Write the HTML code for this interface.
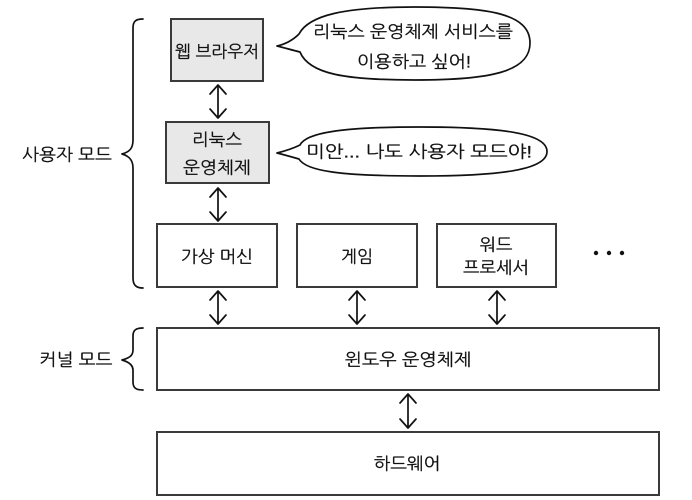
<!DOCTYPE html>
<html><head><meta charset="utf-8"><style>
html,body{margin:0;padding:0;background:#fff}
svg{display:block;filter:blur(.3px)}
text{font-family:"Liberation Sans","NanumGothic","Noto Sans CJK KR",sans-serif;font-size:17px;fill:#111;stroke:#111;stroke-width:.25;dominant-baseline:central;text-anchor:middle}
.b{fill:#fff;stroke:#3a3a3a;stroke-width:2}
.g{fill:#e8e8e8;stroke:#3a3a3a;stroke-width:2}
.l{fill:none;stroke:#111;stroke-width:1.7;stroke-linecap:round;stroke-linejoin:round}
</style></head><body>
<svg width="692" height="500" viewBox="0 0 692 500" xmlns="http://www.w3.org/2000/svg">
<rect class="g" x="171" y="19" width="92" height="62"/>
<rect class="g" x="166" y="122" width="103" height="61"/>
<rect class="b" x="157" y="224" width="120" height="63"/>
<rect class="b" x="297" y="224" width="120" height="63"/>
<rect class="b" x="437" y="224" width="119" height="63"/>
<rect class="b" x="157" y="328" width="502" height="62"/>
<rect class="b" x="157" y="432" width="502" height="63"/>
<path class="l" d="M143 19C136 19 133 21 133 28V140C133 149 129 152 122 154C129 156 133 160 133 168V278C133 285 136 288 143 288"/>
<path class="l" d="M143 328C136 328 133 330 133 336V350C133 356 129 358 122 360C129 362 133 365 133 370V382C133 388 136 390 143 390"/>
<path class="l" d="M277 46C286 44 293 40 299 34C309 15 345 7 415 7C490 7 530 14 530 43C530 72 490 80 415 80C345 80 309 74 300 52C292 50 285 48 277 46Z"/>
<path class="l" d="M277 153C285 151 292 149 300 145C306 133 340 127 420 127C505 127 547 134 547 151.500C547 169 505 176 420 176C340 176 306 171 299 159C292 157 285 155 277 153Z"/>
<path class="l" d="M218 86V118M210 94L218 85L226 94M210 109L218 118L226 109"/>
<path class="l" d="M218 189V221M210 197L218 188L226 197M210 212L218 221L226 212"/>
<path class="l" d="M218 292V324M210 300L218 291L226 300M210 315L218 324L226 315"/>
<path class="l" d="M357 292V324M349 300L357 291L365 300M349 315L357 324L365 315"/>
<path class="l" d="M497 292V324M489 300L497 291L505 300M489 315L497 324L505 315"/>
<path class="l" d="M408 395V428M400 403L408 394L416 403M400 419L408 428L416 419"/>
<circle cx="596" cy="253" r="2.200" fill="#111"/><circle cx="609" cy="253" r="2.200" fill="#111"/><circle cx="622" cy="253" r="2.200" fill="#111"/>
<text x="217" y="52" textLength="84" lengthAdjust="spacingAndGlyphs">웹 브라우저</text>
<text x="217" y="140" textLength="50" lengthAdjust="spacingAndGlyphs">리눅스</text>
<text x="217" y="168" textLength="68" lengthAdjust="spacingAndGlyphs">운영체제</text>
<text x="413" y="32" textLength="200" lengthAdjust="spacingAndGlyphs">리눅스 운영체제 서비스를</text>
<text x="414" y="62" textLength="114" lengthAdjust="spacingAndGlyphs">이용하고 싶어!</text>
<text x="419" y="152" textLength="226" lengthAdjust="spacingAndGlyphs">미안... 나도 사용자 모드야!</text>
<text x="67" y="155" textLength="90" lengthAdjust="spacingAndGlyphs">사용자 모드</text>
<text x="76" y="360" textLength="73" lengthAdjust="spacingAndGlyphs">커널 모드</text>
<text x="217" y="257" textLength="72" lengthAdjust="spacingAndGlyphs">가상 머신</text>
<text x="357" y="257" textLength="32" lengthAdjust="spacingAndGlyphs">게임</text>
<text x="496" y="245" textLength="33" lengthAdjust="spacingAndGlyphs">워드</text>
<text x="496" y="268" textLength="66" lengthAdjust="spacingAndGlyphs">프로세서</text>
<text x="408" y="360" textLength="127" lengthAdjust="spacingAndGlyphs">윈도우 운영체제</text>
<text x="407" y="464" textLength="67" lengthAdjust="spacingAndGlyphs">하드웨어</text>
</svg>
</body></html>
